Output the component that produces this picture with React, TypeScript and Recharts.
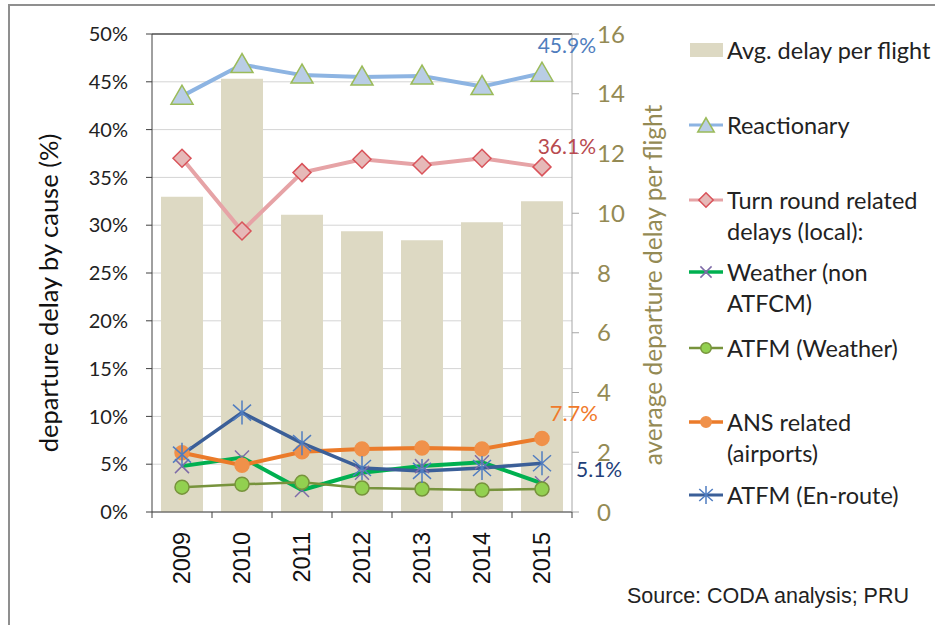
import React from 'react';
import {
  ComposedChart, Bar, Line, XAxis, YAxis, CartesianGrid, ReferenceLine, Legend, LabelList,
} from 'recharts';

const years = ['2009', '2010', '2011', '2012', '2013', '2014', '2015'];
const avgDelay = [10.55, 14.5, 9.95, 9.4, 9.1, 9.7, 10.4];
const reactionary = [43.5, 46.8, 45.7, 45.5, 45.6, 44.5, 45.9];
const turnRound = [37.0, 29.4, 35.5, 36.9, 36.3, 37.0, 36.1];
const weatherNonAtfcm = [4.8, 5.7, 2.3, 4.1, 4.8, 5.2, 3.0];
const atfmWeather = [2.6, 2.9, 3.1, 2.5, 2.4, 2.3, 2.4];
const ansAirports = [6.2, 4.9, 6.3, 6.6, 6.7, 6.6, 7.7];
const atfmEnroute = [6.0, 10.4, 7.2, 4.6, 4.3, 4.6, 5.1];

const leftTicks = [0, 5, 10, 15, 20, 25, 30, 35, 40, 45, 50];
const rightTicks = [0, 2, 4, 6, 8, 10, 12, 14, 16];

const data = years.map((y, i) => ({
  year: y,
  avg: avgDelay[i],
  reactionary: reactionary[i],
  turnRound: turnRound[i],
  weather: weatherNonAtfcm[i],
  atfmWeather: atfmWeather[i],
  ans: ansAirports[i],
  enroute: atfmEnroute[i],
}));

const FONT = 'Lato, "Open Sans", sans-serif';
const OLIVE = '#948A54';

const C = {
  bar: '#DDD9C3',
  reactLine: '#8DB4E2', reactFill: '#B9CDE5', reactStroke: '#9BBB59',
  turnLine: '#E6A3A6', turnFill: '#E6B9B8', turnStroke: '#D9535A',
  weatherLine: '#00B050', weatherMark: '#7E6BA8',
  atfmWLine: '#77933C', atfmWFill: '#92D050',
  ansLine: '#EB7B2A', ansFill: '#F0914A',
  enrouteLine: '#3B5F98', enrouteMark: '#4F7CC0',
};

const tri = (cx: number, cy: number, s = 1) => (
  <polygon points={`${cx},${cy - 11 * s} ${cx - 11 * s},${cy + 8 * s} ${cx + 11 * s},${cy + 8 * s}`}
    fill={C.reactFill} stroke={C.reactStroke} strokeWidth={1.5} />
);
const diamond = (cx: number, cy: number, s = 1) => (
  <polygon points={`${cx},${cy - 9 * s} ${cx + 9 * s},${cy} ${cx},${cy + 9 * s} ${cx - 9 * s},${cy}`}
    fill={C.turnFill} stroke={C.turnStroke} strokeWidth={1.5} />
);
const xMark = (cx: number, cy: number, s = 1) => (
  <g stroke={C.weatherMark} strokeWidth={1.5}>
    <line x1={cx - 7 * s} y1={cy - 7 * s} x2={cx + 7 * s} y2={cy + 7 * s} />
    <line x1={cx - 7 * s} y1={cy + 7 * s} x2={cx + 7 * s} y2={cy - 7 * s} />
  </g>
);
const circ = (cx: number, cy: number, fill: string, stroke: string, s = 1) => (
  <circle cx={cx} cy={cy} r={7 * s} fill={fill} stroke={stroke} strokeWidth={1.5} />
);
const star = (cx: number, cy: number, s = 1) => (
  <g stroke={C.enrouteMark} strokeWidth={1.5}>
    <line x1={cx - 9 * s} y1={cy - 8 * s} x2={cx + 9 * s} y2={cy + 8 * s} />
    <line x1={cx - 9 * s} y1={cy + 8 * s} x2={cx + 9 * s} y2={cy - 8 * s} />
    <line x1={cx} y1={cy - 12 * s} x2={cx} y2={cy + 12 * s} />
  </g>
);

const dotFn = (kind: string) => (p: any) => {
  const { cx, cy, index } = p;
  const k = `${kind}-${index}`;
  let el: any = null;
  if (kind === 'tri') el = tri(cx, cy);
  if (kind === 'diamond') el = diamond(cx, cy);
  if (kind === 'x') el = xMark(cx, cy);
  if (kind === 'cw') el = circ(cx, cy, C.atfmWFill, C.atfmWLine);
  if (kind === 'co') el = circ(cx, cy, C.ansFill, C.ansFill);
  if (kind === 'star') el = star(cx, cy);
  return <g key={k}>{el}</g>;
};

const endLabel = (color: string, dx: number, dy: number, anchor: string, size = 21) => (p: any) => {
  const { x, y, index, value } = p;
  if (index !== years.length - 1) return null;
  return (
    <text x={x + dx} y={y + dy} fill={color} fontSize={size} fontFamily={FONT}
      textAnchor={anchor} dominantBaseline="central">{`${Number(value).toFixed(1)}%`}</text>
  );
};

const XTick = (p: any) => {
  const { x, y, payload, index } = p;
  const off = payload && payload.offset != null ? payload.offset : 30;
  return (
    <g>
      <line x1={x - off} y1={y} x2={x - off} y2={y + 6} stroke="#404040" />
      {index === years.length - 1 && <line x1={x + off} y1={y} x2={x + off} y2={y + 6} stroke="#404040" />}
      <text x={x} y={y + 20} transform={`rotate(-90, ${x}, ${y + 20})`} textAnchor="end"
        dominantBaseline="central" fontSize={23.5} fontFamily='"Liberation Sans", Arial, sans-serif' fill="#111">
        {payload.value}
      </text>
    </g>
  );
};

const LeftLabel = (p: any) => {
  const vb = p.viewBox || {};
  const x = 48;
  const y = vb.y + vb.height / 2 + 20;
  return (
    <text x={x} y={y} transform={`rotate(-90, ${x}, ${y})`} textAnchor="middle" dominantBaseline="central"
      fontSize={25.5} fontFamily={FONT} fill="#111">departure delay by cause (%)</text>
  );
};
const RightLabel = (p: any) => {
  const vb = p.viewBox || {};
  const x = vb.x + 80;
  const y = vb.y + vb.height / 2 + 12;
  return (
    <text x={x} y={y} transform={`rotate(-90, ${x}, ${y})`} textAnchor="middle" dominantBaseline="central"
      fontSize={24.5} fontFamily={FONT} fill={OLIVE}>average departure delay per flight</text>
  );
};

const legendEntries = [
  { lines: ['Avg. delay per flight'], icon: 'bar', center: 50 },
  { lines: ['Reactionary'], icon: 'tri', center: 125 },
  { lines: ['Turn round related', 'delays (local):'], icon: 'diamond', center: 200 },
  { lines: ['Weather (non', 'ATFCM)'], icon: 'x', center: 272 },
  { lines: ['ATFM (Weather)'], icon: 'cw', center: 348 },
  { lines: ['ANS related', '(airports)'], icon: 'co', center: 422 },
  { lines: ['ATFM (En-route)'], icon: 'star', center: 495 },
];

const legendIcon = (icon: string) => {
  const cx = 17, cy = 12;
  const lineOf = (color: string, w: number) => <line x1={0} y1={cy} x2={34} y2={cy} stroke={color} strokeWidth={w} />;
  let inner: any = null;
  if (icon === 'bar') inner = <rect x={1} y={5} width={33} height={14} fill={C.bar} />;
  if (icon === 'tri') inner = <>{lineOf(C.reactLine, 3)}{tri(cx, cy + 1, 0.75)}</>;
  if (icon === 'diamond') inner = <>{lineOf(C.turnLine, 3)}{diamond(cx, cy, 0.8)}</>;
  if (icon === 'x') inner = <>{lineOf(C.weatherLine, 3.5)}{xMark(cx, cy, 0.8)}</>;
  if (icon === 'cw') inner = <>{lineOf(C.atfmWLine, 2.5)}{circ(cx, cy, C.atfmWFill, C.atfmWLine, 0.75)}</>;
  if (icon === 'co') inner = <>{lineOf(C.ansLine, 3.5)}{circ(cx, cy, C.ansFill, C.ansFill, 0.75)}</>;
  if (icon === 'star') inner = <>{lineOf(C.enrouteLine, 3)}{star(cx, cy, 0.75)}</>;
  return <svg width={35} height={24} style={{ position: 'absolute', left: 0, top: 0 }}>{inner}</svg>;
};

const LegendContent = () => (
  <div style={{ position: 'relative', width: 250, height: 520, fontFamily: FONT, fontSize: 23.5, color: '#222' }}>
    {legendEntries.map((e) => (
      <div key={e.lines[0]} style={{ position: 'absolute', left: 0, top: e.center - 12, width: 260 }}>
        {legendIcon(e.icon)}
        {e.lines.map((l, i) => (
          <div key={l} style={{ position: 'absolute', left: 38, top: i * 31 - 3, lineHeight: '30px', whiteSpace: 'nowrap' }}>{l}</div>
        ))}
      </div>
    ))}
  </div>
);

export default function App() {
  return (
    <div style={{ position: 'fixed', left: 0, top: 0, width: 935, height: 625, background: '#fff', overflow: 'hidden' }}>
      <div style={{ position: 'absolute', left: 8, top: 4, width: 940, height: 640, borderLeft: '2px solid #8f8f8f', borderTop: '2px solid #8f8f8f' }} />
      <ComposedChart width={935} height={625} data={data} margin={{ top: 34, right: 0, bottom: 0, left: 0 }}
        barCategoryGap={0}>
        <CartesianGrid yAxisId="left" horizontal vertical={false} stroke="#D4D4D4" />
        <XAxis dataKey="year" height={113} tickLine={false} tickSize={0} tickMargin={0} axisLine={{ stroke: '#404040' }}
          tick={<XTick />} interval={0} />
        <YAxis yAxisId="left" orientation="left" width={152} domain={[0, 50]} ticks={leftTicks}
          tickFormatter={(v: number) => `${v}%`} tickSize={6} tickMargin={18} axisLine={{ stroke: '#404040' }}
          tickLine={{ stroke: '#404040' }} tick={{ fontSize: 20, fontFamily: FONT, fill: '#222' }}
          label={<LeftLabel />} />
        <YAxis yAxisId="right" orientation="right" width={363} domain={[0, 16]} ticks={rightTicks}
          tickSize={7} tickMargin={18} axisLine={{ stroke: '#A6A6A6' }} tickLine={{ stroke: '#A6A6A6' }}
          tick={{ fontSize: 24, fontFamily: FONT, fill: OLIVE }} label={<RightLabel />} />
        <Legend layout="vertical" align="center" verticalAlign="middle" content={<LegendContent />}
          wrapperStyle={{ position: 'absolute', left: 689, top: 0, width: 250, height: 520 }} />
        <ReferenceLine yAxisId="left" y={50} stroke="#555" strokeWidth={1.5} />
        <Bar yAxisId="right" dataKey="avg" name="Avg. delay per flight" fill={C.bar} barSize={42} isAnimationActive={false} />
        <Line yAxisId="left" dataKey="reactionary" name="Reactionary" stroke={C.reactLine} strokeWidth={4}
          dot={dotFn('tri')} activeDot={false} isAnimationActive={false}>
          <LabelList dataKey="reactionary" content={endLabel('#4F7DBD', 54, -29, 'end')} />
        </Line>
        <Line yAxisId="left" dataKey="turnRound" name="Turn round related delays (local):" stroke={C.turnLine} strokeWidth={4}
          dot={dotFn('diamond')} activeDot={false} isAnimationActive={false}>
          <LabelList dataKey="turnRound" content={endLabel('#B84A4F', 54, -21, 'end')} />
        </Line>
        <Line yAxisId="left" dataKey="weather" name="Weather (non ATFCM)" stroke={C.weatherLine} strokeWidth={4}
          dot={dotFn('x')} activeDot={false} isAnimationActive={false} />
        <Line yAxisId="left" dataKey="atfmWeather" name="ATFM (Weather)" stroke={C.atfmWLine} strokeWidth={2.5}
          dot={dotFn('cw')} activeDot={false} isAnimationActive={false} />
        <Line yAxisId="left" dataKey="ans" name="ANS related (airports)" stroke={C.ansLine} strokeWidth={4}
          dot={dotFn('co')} activeDot={false} isAnimationActive={false}>
          <LabelList dataKey="ans" content={endLabel('#F07A2A', 56, -26, 'end', 22)} />
        </Line>
        <Line yAxisId="left" dataKey="enroute" name="ATFM (En-route)" stroke={C.enrouteLine} strokeWidth={3.5}
          dot={dotFn('star')} activeDot={false} isAnimationActive={false}>
          <LabelList dataKey="enroute" content={endLabel('#1F3F7A', 34, 5, 'start')} />
        </Line>
      </ComposedChart>
      <div style={{ position: 'absolute', left: 627, top: 584, fontFamily: '"Liberation Sans", Arial, sans-serif', fontSize: 21.5, color: '#222', whiteSpace: 'nowrap' }}>
        Source: CODA analysis; PRU
      </div>
    </div>
  );
}
